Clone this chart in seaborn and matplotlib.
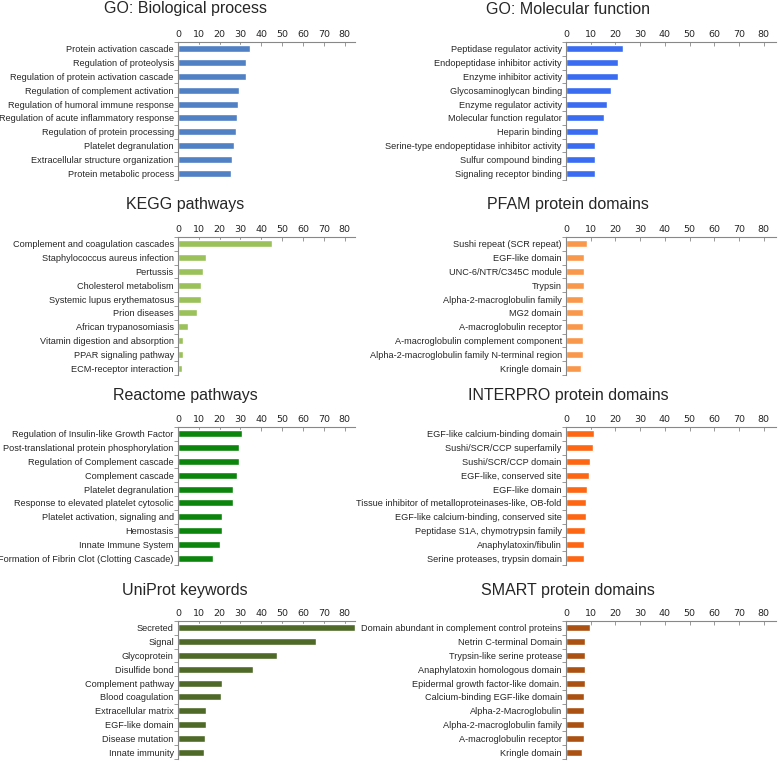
"""
Functional enrichment overview: top 10 terms per annotation source,
drawn as small horizontal bar charts in a 4 x 2 grid.
"""

import numpy as np
import pandas as pd
import matplotlib
matplotlib.use("Agg")
import matplotlib.pyplot as plt
from matplotlib.ticker import FixedLocator
import seaborn as sns

# 1. DATA
go_bp_terms = ["Protein activation cascade", "Regulation of proteolysis",
               "Regulation of protein activation cascade", "Regulation of complement activation",
               "Regulation of humoral immune response", "Regulation of acute inflammatory response",
               "Regulation of protein processing", "Platelet degranulation",
               "Extracellular structure organization", "Protein metabolic process"]
go_bp_counts = [34.6, 32.5, 32.5, 29.3, 28.8, 28.2, 27.7, 26.9, 26.1, 25.4]

go_mf_terms = ["Peptidase regulator activity", "Endopeptidase inhibitor activity",
               "Enzyme inhibitor activity", "Glycosaminoglycan binding",
               "Enzyme regulator activity", "Molecular function regulator",
               "Heparin binding", "Serine-type endopeptidase inhibitor activity",
               "Sulfur compound binding", "Signaling receptor binding"]
go_mf_counts = [23.1, 21.2, 21.1, 18.2, 16.7, 15.2, 12.8, 11.9, 11.7, 11.6]

kegg_terms = ["Complement and coagulation cascades", "Staphylococcus aureus infection",
              "Pertussis", "Cholesterol metabolism", "Systemic lupus erythematosus",
              "Prion diseases", "African trypanosomiasis", "Vitamin digestion and absorption",
              "PPAR signaling pathway", "ECM-receptor interaction"]
kegg_counts = [45.2, 13.5, 11.9, 10.9, 10.9, 9.1, 4.8, 2.4, 2.2, 1.9]

pfam_terms = ["Sushi repeat (SCR repeat)", "EGF-like domain", "UNC-6/NTR/C345C module",
              "Trypsin", "Alpha-2-macroglobulin family", "MG2 domain",
              "A-macroglobulin receptor", "A-macroglobulin complement component",
              "Alpha-2-macroglobulin family N-terminal region", "Kringle domain"]
pfam_counts = [8.3, 7.1, 7.1, 7.1, 6.8, 6.8, 6.8, 6.8, 6.8, 6.2]

reactome_terms = ["Regulation of Insulin-like Growth Factor",
                  "Post-translational protein phosphorylation",
                  "Regulation of Complement cascade", "Complement cascade",
                  "Platelet degranulation", "Response to elevated platelet cytosolic",
                  "Platelet activation, signaling and", "Hemostasis",
                  "Innate Immune System", "Formation of Fibrin Clot (Clotting Cascade)"]
reactome_counts = [30.8, 29.1, 29.1, 28.2, 26.4, 26.2, 20.9, 20.9, 20.0, 16.6]

interpro_terms = ["EGF-like calcium-binding domain", "Sushi/SCR/CCP superfamily",
                  "Sushi/SCR/CCP domain", "EGF-like, conserved site", "EGF-like domain",
                  "Tissue inhibitor of metalloproteinases-like, OB-fold",
                  "EGF-like calcium-binding, conserved site",
                  "Peptidase S1A, chymotrypsin family", "Anaphylatoxin/fibulin",
                  "Serine proteases, trypsin domain"]
interpro_counts = [11.3, 10.9, 9.7, 9.2, 8.6, 8.0, 7.9, 7.5, 7.2, 7.2]

uniprot_terms = ["Secreted", "Signal", "Glycoprotein", "Disulfide bond",
                 "Complement pathway", "Blood coagulation", "Extracellular matrix",
                 "EGF-like domain", "Disease mutation", "Innate immunity"]
uniprot_counts = [85.0, 66.3, 47.6, 36.0, 21.2, 20.8, 13.5, 13.5, 13.2, 12.4]

smart_terms = ["Domain abundant in complement control proteins", "Netrin C-terminal Domain",
               "Trypsin-like serine protease", "Anaphylatoxin homologous domain",
               "Epidermal growth factor-like domain.", "Calcium-binding EGF-like domain",
               "Alpha-2-Macroglobulin", "Alpha-2-macroglobulin family",
               "A-macroglobulin receptor", "Kringle domain"]
smart_counts = [9.8, 7.6, 7.6, 7.6, 7.5, 7.2, 7.2, 7.2, 7.2, 6.4]

x_ticks = [0, 10, 20, 30, 40, 50, 60, 70, 80]

# panel title, terms, counts, colour, column, row
panels = [
    ("GO: Biological process", go_bp_terms, go_bp_counts, "#4f81c4", 0, 0),
    ("GO: Molecular function", go_mf_terms, go_mf_counts, "#3a6cf2", 1, 0),
    ("KEGG pathways", kegg_terms, kegg_counts, "#9bc15a", 0, 1),
    ("PFAM protein domains", pfam_terms, pfam_counts, "#f9974a", 1, 1),
    ("Reactome pathways", reactome_terms, reactome_counts, "#0b850b", 0, 2),
    ("INTERPRO protein domains", interpro_terms, interpro_counts, "#ff6612", 1, 2),
    ("UniProt keywords", uniprot_terms, uniprot_counts, "#4f6a28", 0, 3),
    ("SMART protein domains", smart_terms, smart_counts, "#ab5212", 1, 3),
]

# 2. PLOT
sns.set_style("white")
plt.rcParams["font.family"] = ["Liberation Sans", "DejaVu Sans"]

W, H = 778, 762
fig = plt.figure(figsize=(W / 100, H / 100), dpi=100)

col_left = [178, 566]
col_width = [177, 210]
row_top = [42, 237, 427, 621]
ax_height = 138
title_x = [185, 568]
title_y = [9, 205, 395, 590]

for title, terms, counts, color, col, row in panels:
    left = col_left[col] / W
    bottom = 1 - (row_top[row] + ax_height) / H
    ax = fig.add_axes([left, bottom, col_width[col] / W, ax_height / H])

    df = pd.DataFrame({"term": terms, "count": counts})
    sns.barplot(data=df, x="count", y="term", color=color, width=0.5,
                saturation=1, ax=ax)

    ax.set_xlim(0, 85)
    ax.set_ylim(9.5, -0.5)
    ax.set_xlabel("")
    ax.set_ylabel("")

    # axis on top, Excel-like look
    ax.xaxis.tick_top()
    ax.set_xticks(x_ticks)
    ax.tick_params(axis="x", labelsize=6.8, length=3, width=0.6, color="#888888",
                   direction="in", pad=2, labelfontfamily="DejaVu Sans")
    ax.tick_params(axis="y", which="major", length=0, labelsize=6.6, pad=3)
    ax.yaxis.set_minor_locator(FixedLocator(np.arange(-0.5, 10, 1)))
    ax.tick_params(axis="y", which="minor", left=True, length=3, width=0.6,
                   color="#888888", direction="out")
    for side in ["right", "bottom"]:
        ax.spines[side].set_visible(False)
    for side in ["left", "top"]:
        ax.spines[side].set_color("#888888")
        ax.spines[side].set_linewidth(0.8)

    fig.text(title_x[col] / W, 1 - title_y[row] / H, title, ha="center",
             va="center", fontsize=11.5)

plt.savefig("out.png", dpi=100)
